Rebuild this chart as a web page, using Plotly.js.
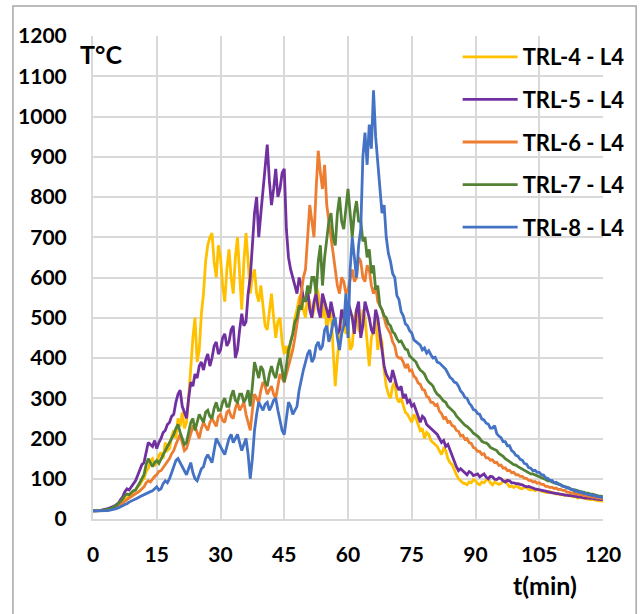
<!DOCTYPE html>
<html>
<head>
<meta charset="utf-8">
<script src="https://cdn.plot.ly/plotly-3.0.1.min.js"></script>
<style>html,body{margin:0;padding:0;background:#fff;}#chart{width:642px;height:614px;}</style>
</head>
<body>
<div id="chart"></div>
<script>
const minutes = [
0,0.5,1,1.5,2,2.5,3,3.5,4,4.5,5,5.5,6,6.5,7,7.5,8,8.5,9,9.5,
10,10.5,11,11.5,12,12.5,13,13.5,14,14.5,15,15.5,16,16.5,17,17.5,18,18.5,19,19.5,
20,20.5,21,21.5,22,22.5,23,23.5,24,24.5,25,25.5,26,26.5,27,27.5,28,28.5,29,29.5,
30,30.5,31,31.5,32,32.5,33,33.5,34,34.5,35,35.5,36,36.5,37,37.5,38,38.5,39,39.5,
40,40.5,41,41.5,42,42.5,43,43.5,44,44.5,45,45.5,46,46.5,47,47.5,48,48.5,49,49.5,
50,50.5,51,51.5,52,52.5,53,53.5,54,54.5,55,55.5,56,56.5,57,57.5,58,58.5,59,59.5,
60,60.5,61,61.5,62,62.5,63,63.5,64,64.5,65,65.5,66,66.5,67,67.5,68,68.5,69,69.5,
70,70.5,71,71.5,72,72.5,73,73.5,74,74.5,75,75.5,76,76.5,77,77.5,78,78.5,79,79.5,
80,80.5,81,81.5,82,82.5,83,83.5,84,84.5,85,85.5,86,86.5,87,87.5,88,88.5,89,89.5,
90,90.5,91,91.5,92,92.5,93,93.5,94,94.5,95,95.5,96,96.5,97,97.5,98,98.5,99,99.5,
100,100.5,101,101.5,102,102.5,103,103.5,104,104.5,105,105.5,106,106.5,107,107.5,108,108.5,109,109.5,
110,110.5,111,111.5,112,112.5,113,113.5,114,114.5,115,115.5,116,116.5,117,117.5,118,118.5,119,119.5,
120];

const seriesNames = ["TRL-4 - L4","TRL-5 - L4","TRL-6 - L4","TRL-7 - L4","TRL-8 - L4"];

const trl4 = [
20,20,20,21,21,22,22,23,24,26,28,30,33,38,40,48,52,58,60,68,
72,80,85,95,100,118,125,145,150,132,140,158,165,150,190,170,175,205,220,200,
250,230,265,225,240,300,380,450,500,390,420,510,560,640,680,700,710,640,600,680,
650,580,540,620,670,600,560,650,700,600,520,640,710,640,560,600,620,560,540,580,
520,480,470,520,560,500,450,490,500,440,410,430,400,440,460,500,520,550,560,520,
500,560,540,500,520,580,560,520,500,540,470,500,520,420,330,400,450,500,520,460,
480,420,430,500,520,470,460,520,500,440,380,450,470,500,420,460,440,370,330,310,
300,330,340,300,290,300,280,265,260,250,240,260,250,235,220,225,200,215,210,195,
190,185,180,170,160,175,170,150,140,135,120,110,100,95,90,88,85,92,90,98,
95,88,85,92,90,96,100,90,85,92,90,86,88,94,95,86,80,82,78,82,
80,76,75,79,78,74,72,74,70,73,72,69,68,67,65,68,66,63,62,63,
60,61,58,59,60,57,55,56,52,54,54,51,50,50,48,49,47,46,45,45,
44];

const trl5 = [
20,20,21,21,22,23,25,26,28,30,32,36,40,48,55,68,75,72,80,88,
95,108,120,135,140,165,190,185,180,195,175,190,200,215,220,235,240,255,260,290,
310,320,280,265,250,300,340,330,360,350,380,390,370,395,410,380,400,430,440,410,
420,450,460,430,440,470,480,400,420,470,510,480,490,560,600,680,760,800,700,760,
820,860,930,840,780,820,870,800,820,860,870,720,650,620,600,580,560,600,580,550,
540,570,520,500,540,560,520,500,560,540,520,500,540,510,490,460,470,520,500,480,
540,520,500,460,520,540,450,480,540,520,500,470,460,520,500,460,420,380,360,350,
340,370,350,330,320,330,300,310,290,295,280,285,270,255,240,255,250,235,230,225,
220,215,210,200,190,195,180,185,170,155,140,130,120,125,120,115,110,118,115,108,
110,112,105,108,112,104,100,106,105,99,98,102,100,95,92,96,95,90,90,88,
88,86,85,82,80,81,78,77,75,74,72,71,70,69,68,66,65,65,64,62,
62,61,60,59,58,58,57,56,55,55,54,53,52,52,52,51,50,49,49,48,
48];

const trl6 = [
20,20,20,21,21,21,22,23,24,25,27,30,32,36,40,45,48,52,55,58,
62,66,70,76,80,90,95,92,100,106,110,118,120,128,135,142,150,162,170,185,
200,210,190,170,175,195,210,230,230,215,200,225,240,230,220,240,250,240,230,255,
260,245,240,265,270,255,250,275,290,270,280,290,260,240,220,270,310,300,290,320,
340,330,310,320,330,310,300,330,360,350,340,360,380,400,420,450,480,520,560,600,
620,700,780,740,700,820,915,860,820,880,780,740,700,660,620,580,560,600,590,560,
570,600,620,590,600,650,640,600,590,630,620,580,560,580,540,530,520,500,480,470,
460,440,430,405,400,400,390,375,385,368,370,355,350,338,335,322,320,305,302,290,
290,282,285,268,262,250,252,240,242,232,230,220,218,206,208,198,200,190,188,178,
175,168,168,160,162,152,152,146,147,140,141,133,134,126,127,120,121,115,116,110,
110,106,106,101,101,96,96,92,93,89,90,86,86,81,81,78,79,76,77,73,
74,71,71,67,67,64,65,62,63,60,61,58,59,56,57,54,55,52,53,51,
50];

const trl7 = [
20,20,20,21,21,22,23,24,26,28,30,34,38,44,50,58,62,60,65,70,
72,80,90,100,110,135,150,140,130,140,145,138,150,162,170,180,190,200,210,225,
235,215,200,185,190,215,240,250,220,240,260,250,240,265,270,255,250,275,290,270,
270,290,300,280,280,305,320,295,290,310,310,290,300,320,280,330,390,370,350,380,
370,340,330,360,380,360,350,380,400,370,340,380,420,440,460,490,500,530,520,550,
540,580,560,600,600,560,640,680,580,650,700,740,760,700,680,760,800,740,720,780,
820,760,700,760,790,740,740,690,700,650,670,610,630,570,580,530,520,505,500,485,
480,465,460,448,440,442,430,422,420,405,400,396,390,378,370,366,360,348,340,336,
330,318,310,306,300,293,290,280,275,271,265,256,250,246,240,233,230,226,220,213,
210,206,200,193,190,189,185,178,175,173,170,163,160,156,150,147,142,139,135,134,
130,127,125,120,118,116,112,112,110,107,105,103,100,98,95,95,92,89,88,88,
85,83,80,79,76,75,72,72,70,69,67,67,64,64,62,62,60,59,57,57,
55];

const trl8 = [
20,20,20,20,20,21,21,21,22,23,25,26,28,30,33,36,38,42,44,46,
48,52,55,58,60,63,65,68,70,75,80,72,75,88,95,90,100,115,130,145,
150,140,130,118,110,125,140,115,100,95,110,125,130,150,160,150,140,170,200,190,
180,170,160,180,200,210,190,200,210,190,170,185,200,160,100,150,220,260,290,280,
270,285,290,270,280,295,300,270,240,220,210,250,290,280,260,270,280,320,350,370,
390,410,420,390,400,430,440,420,430,470,480,440,460,490,500,450,420,460,480,560,
450,620,700,640,600,680,720,900,960,880,980,920,1065,950,880,820,760,780,700,660,
640,610,600,555,545,515,505,485,480,468,462,445,440,435,432,420,425,412,418,408,
400,402,390,388,382,378,372,362,352,348,340,338,330,318,312,302,300,288,282,272,
270,262,260,248,246,238,236,226,226,232,212,206,202,192,192,182,182,170,166,158,
156,148,146,138,136,128,126,120,121,116,116,110,109,102,101,96,96,90,91,86,
85,81,81,77,77,73,73,69,69,66,67,63,63,60,61,58,59,55,56,54,
54];

const xTicks = [0,15,30,45,60,75,90,105,120];
const yTicks = [0,100,200,300,400,500,600,700,800,900,1000,1100,1200];
const colors = ["#FFC000","#7030A0","#ED7D31","#548235","#4472C4"];

const allSeries = [trl4, trl5, trl6, trl7, trl8];
const traces = allSeries.map((vals, i) => ({
  type: "scatter",
  mode: "lines",
  x: minutes,
  y: vals,
  name: seriesNames[i],
  legendgroup: "g" + i,
  line: {color: colors[i], width: 2.8}
}));

const fontFam = "Lato, 'Open Sans', sans-serif";
const layout = {
  width: 642, height: 614,
  margin: {l: 93, r: 39, t: 36, b: 95},
  paper_bgcolor: "#fff",
  plot_bgcolor: "#fff",
  font: {family: fontFam, color: "#000"},
  showlegend: true,
  legend: {
    x: 0.715, y: 1.0, xanchor: "left", yanchor: "top",
    bgcolor: "rgba(0,0,0,0)",
    font: {family: fontFam, size: 22, color: "#000", weight: "bold"},
    itemwidth: 55,
    tracegroupgap: 11
  },
  xaxis: {
    range: [0, 120],
    tickvals: xTicks,
    ticktext: xTicks.map(String),
    showgrid: true, gridcolor: "#d9d9d9", gridwidth: 2,
    showline: true, linecolor: "#d9d9d9", linewidth: 2,
    zeroline: false, ticks: "",
    ticklabelstandoff: 16,
    tickfont: {family: fontFam, size: 21, color: "#000", weight: "bold"}
  },
  yaxis: {
    range: [0, 1200],
    tickvals: yTicks,
    ticktext: yTicks.map(String),
    showgrid: true, gridcolor: "#d9d9d9", gridwidth: 2,
    showline: true, linecolor: "#d9d9d9", linewidth: 2,
    zeroline: false, ticks: "",
    ticklabelstandoff: 20,
    tickfont: {family: fontFam, size: 21, color: "#000", weight: "bold"}
  },
  annotations: [
    {text: "T°C", xref: "paper", yref: "paper", x: -0.03, y: 0.962, xanchor: "left", yanchor: "middle", showarrow: false,
     font: {family: fontFam, size: 25, color: "#000", weight: "bold"}},
    {text: "t(min)", xref: "paper", yref: "paper", x: 0.886, y: -0.137, xanchor: "center", yanchor: "middle", showarrow: false,
     font: {family: fontFam, size: 25, color: "#000", weight: "bold"}}
  ],
  shapes: [
    {type: "rect", xref: "paper", yref: "paper", x0: -0.157, x1: 1.065, y0: -0.3, y1: 1.062,
     line: {color: "#a6a6a6", width: 1.5}, fillcolor: "rgba(0,0,0,0)", layer: "below"}
  ]
};

Plotly.newPlot("chart", traces, layout, {displayModeBar: false, staticPlot: true});
</script>
</body>
</html>
